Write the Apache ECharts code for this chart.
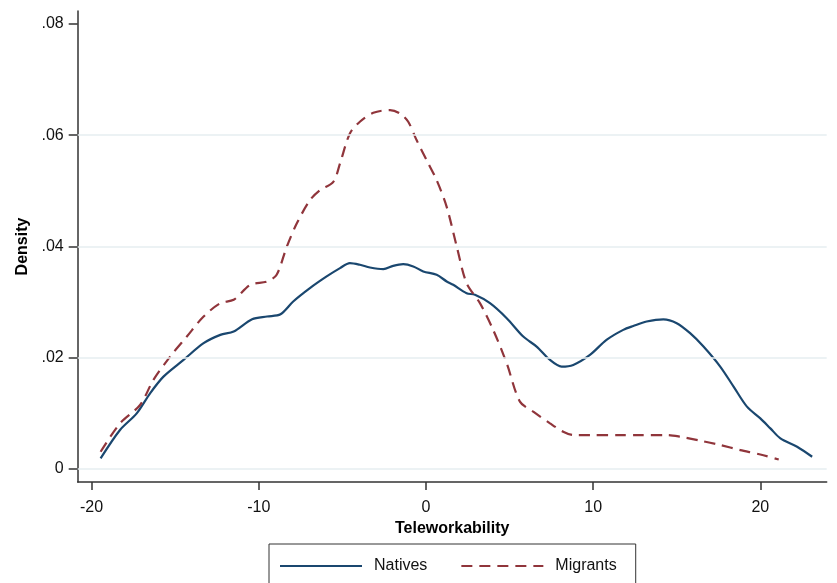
<!DOCTYPE html>
<html>
<head>
<meta charset="utf-8">
<script src="https://cdn.jsdelivr.net/npm/echarts@6/dist/echarts.min.js"></script>
<style>
  html, body { margin: 0; padding: 0; background: #fff; }
  #chart { width: 837px; height: 583px; }
</style>
</head>
<body>
<div id="chart"></div>
<script>
// Kernel density of teleworkability, natives vs migrants
const nativesX = [-19.46, -18.3, -17.3, -16.5, -15.7, -14.5, -13.3, -12.3, -11.5, -10.4, -9.5, -8.7, -7.94, -6.94, -5.94, -5.14, -4.55, -3.95, -3.35, -2.55, -1.96, -1.36, -0.76, -0.16, 0.64, 1.24, 1.63, 2.43, 2.93, 3.83, 4.83, 5.82, 6.62, 7.42, 8.11, 8.81, 9.81, 10.8, 11.8, 12.4, 13.2, 14.2, 15.0, 15.8, 16.6, 17.6, 18.4, 19.2, 20.0, 20.6, 21.2, 22.2, 23.1];
const nativesY = [0.0019, 0.0070, 0.0100, 0.0136, 0.0166, 0.0196, 0.0226, 0.0241, 0.0247, 0.0269, 0.0274, 0.0278, 0.0301, 0.0325, 0.0346, 0.0361, 0.0370, 0.0367, 0.0362, 0.0359, 0.0365, 0.0368, 0.0364, 0.0355, 0.0349, 0.0337, 0.0331, 0.0316, 0.0313, 0.0298, 0.0271, 0.0238, 0.0220, 0.0196, 0.0184, 0.0187, 0.0205, 0.0232, 0.0250, 0.0257, 0.0265, 0.0269, 0.0262, 0.0244, 0.0220, 0.0184, 0.0148, 0.0112, 0.0091, 0.0073, 0.0055, 0.0040, 0.0022];

const migrantsX = [-19.46, -18.3, -17.1, -16.3, -15.3, -14.3, -13.3, -12.3, -11.5, -10.5, -9.5, -8.93, -8.33, -7.73, -6.94, -6.34, -5.54, -5.14, -4.55, -3.95, -3.15, -2.15, -1.56, -1.06, -0.56, 0.04, 0.64, 1.24, 1.84, 2.43, 3.23, 4.02, 4.83, 5.62, 6.42, 7.42, 8.21, 8.81, 9.81, 11.6, 12.8, 14.4, 15.2, 16.4, 17.6, 18.8, 20.0, 21.1];
const migrantsY = [0.0031, 0.0082, 0.0115, 0.0160, 0.0202, 0.0238, 0.0274, 0.0298, 0.0304, 0.0331, 0.0337, 0.0349, 0.0399, 0.0441, 0.0483, 0.0501, 0.0516, 0.0549, 0.0603, 0.0624, 0.0640, 0.0645, 0.0639, 0.0624, 0.0591, 0.0555, 0.0519, 0.0471, 0.0400, 0.0334, 0.0298, 0.0250, 0.0190, 0.0121, 0.0103, 0.0082, 0.0067, 0.0061, 0.0061, 0.0061, 0.0061, 0.0061, 0.0058, 0.0051, 0.0043, 0.0034, 0.0026, 0.0017];

const xTicks = [-20, -10, 0, 10, 20];
const yTicks = [0, 0.02, 0.04, 0.06, 0.08];
const yGridLines = [0, 0.02, 0.04, 0.06];

const FONT = '"Liberation Sans", Arial, sans-serif';
const AXIS_COLOR = '#333333';

function zip(xs, ys) {
  return xs.map((x, i) => [x, ys[i]]);
}

function fmtY(v) {
  if (Math.abs(v) < 1e-9) return '0';
  return v.toFixed(2).replace(/^0/, '');
}

const chart = echarts.init(document.getElementById('chart'), null, { renderer: 'canvas' });

chart.setOption({
  animation: false,
  backgroundColor: '#ffffff',
  textStyle: { fontFamily: FONT },
  grid: { left: 77.7, right: 10.3, top: 11, bottom: 101, containLabel: false },
  xAxis: {
    type: 'value',
    min: -20.83,
    max: 23.97,
    name: 'Teleworkability',
    nameLocation: 'middle',
    nameGap: 33,
    nameTextStyle: { fontFamily: FONT, fontSize: 16, fontWeight: 'bold', color: '#000' },
    axisLine: { show: true, onZero: false, lineStyle: { color: AXIS_COLOR, width: 1.5 } },
    axisTick: { show: true, length: 8, customValues: xTicks, lineStyle: { color: AXIS_COLOR, width: 1.5 } },
    axisLabel: { customValues: xTicks, margin: 18, fontFamily: FONT, fontSize: 16, color: '#111' },
    splitLine: { show: false }
  },
  yAxis: {
    type: 'value',
    min: -0.00234,
    max: 0.0823,
    name: 'Density',
    nameLocation: 'middle',
    nameGap: 42,
    nameRotate: 90,
    nameTextStyle: { fontFamily: FONT, fontSize: 16, fontWeight: 'bold', color: '#000' },
    axisLine: { show: true, onZero: false, lineStyle: { color: AXIS_COLOR, width: 1.5 } },
    axisTick: { show: true, length: 9, customValues: yTicks, lineStyle: { color: AXIS_COLOR, width: 1.5 } },
    axisLabel: { customValues: yTicks, margin: 14, fontFamily: FONT, fontSize: 16, color: '#111', formatter: fmtY },
    splitLine: { show: false }
  },
  legend: {
    data: ['Natives', 'Migrants'],
    left: 269,
    top: 544,
    orient: 'horizontal',
    padding: [14, 19, 30, 10],
    itemWidth: 82,
    itemHeight: 14,
    itemGap: 33,
    borderColor: '#333333',
    borderWidth: 1,
    backgroundColor: '#ffffff',
    itemStyle: { opacity: 0 },
    textStyle: { fontFamily: FONT, fontSize: 16, color: '#111', padding: [0, 0, 0, 7] }
  },
  series: [
    {
      name: 'grid',
      type: 'line',
      data: [],
      silent: true,
      z: 1,
      markLine: {
        silent: true,
        symbol: 'none',
        label: { show: false },
        animation: false,
        lineStyle: { color: '#e6eef1', width: 1.5, type: 'solid' },
        data: yGridLines.map(v => ({ yAxis: v }))
      }
    },
    {
      name: 'Natives',
      type: 'line',
      data: zip(nativesX, nativesY),
      symbol: 'none',
      smooth: 0.3,
      z: 3,
      lineStyle: { color: '#1a476f', width: 2.2 },
      itemStyle: { color: '#1a476f' }
    },
    {
      name: 'Migrants',
      type: 'line',
      data: zip(migrantsX, migrantsY),
      symbol: 'none',
      smooth: 0.3,
      z: 3,
      lineStyle: { color: '#90353b', width: 2.2, type: [11, 7] },
      itemStyle: { color: '#90353b' }
    }
  ]
});
</script>
</body>
</html>
